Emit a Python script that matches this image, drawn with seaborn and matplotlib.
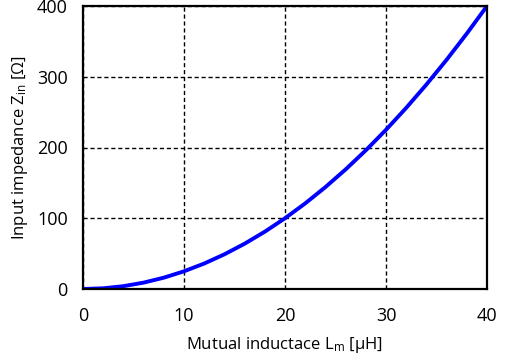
import numpy as np
import pandas as pd
import matplotlib
matplotlib.use("Agg")
import matplotlib.pyplot as plt
import seaborn as sns

# values
mutual_l = [0, 2, 4, 6, 8, 10, 12, 14, 16, 18, 20, 22, 24, 26, 28, 30, 32, 34, 36, 38, 40]
z_in = [0, 1, 4, 9, 16, 25, 36, 49, 64, 81, 100, 121, 144, 169, 196, 225, 256, 289, 324, 361, 400]

x_ticks = [0, 10, 20, 30, 40]
y_ticks = [0, 100, 200, 300, 400]

sns.set_style("white")
plt.rcParams['font.family'] = ['Open Sans', 'DejaVu Sans']
plt.rcParams['mathtext.fontset'] = 'custom'
plt.rcParams['mathtext.rm'] = 'Open Sans'
plt.rcParams['mathtext.it'] = 'Open Sans'
plt.rcParams['text.color'] = 'black'
plt.rcParams['axes.labelcolor'] = 'black'

df = pd.DataFrame({"L": mutual_l, "Z": z_in})

fig = plt.figure(figsize=(5.07, 3.61), dpi=100)
ax = fig.add_axes([83 / 507, 1 - 289 / 361, (487 - 83) / 507, (289 - 6) / 361])

sns.lineplot(data=df, x="L", y="Z", ax=ax, color="#0000ff", linewidth=2.8)

ax.set_xlim(0, 40)
ax.set_ylim(0, 400)
ax.set_xticks(x_ticks)
ax.set_yticks(y_ticks)
ax.grid(True, color="black", linestyle=(0, (3, 2)), linewidth=1.0)
for s in ax.spines.values():
    s.set_color("black")
    s.set_linewidth(1.6)
ax.tick_params(direction="in", length=5, width=1, labelsize=13, colors="black")
ax.tick_params(axis="x", pad=13)
ax.tick_params(axis="y", pad=11)

ax.set_xlabel("Mutual inductace L$_{\\mathrm{m}}$ [μH]", fontsize=12, labelpad=7)
ax.set_ylabel("Input impedance Z$_{\\mathrm{in}}$ [Ω]", fontsize=12, labelpad=5)

fig.savefig("out.png", dpi=100)
